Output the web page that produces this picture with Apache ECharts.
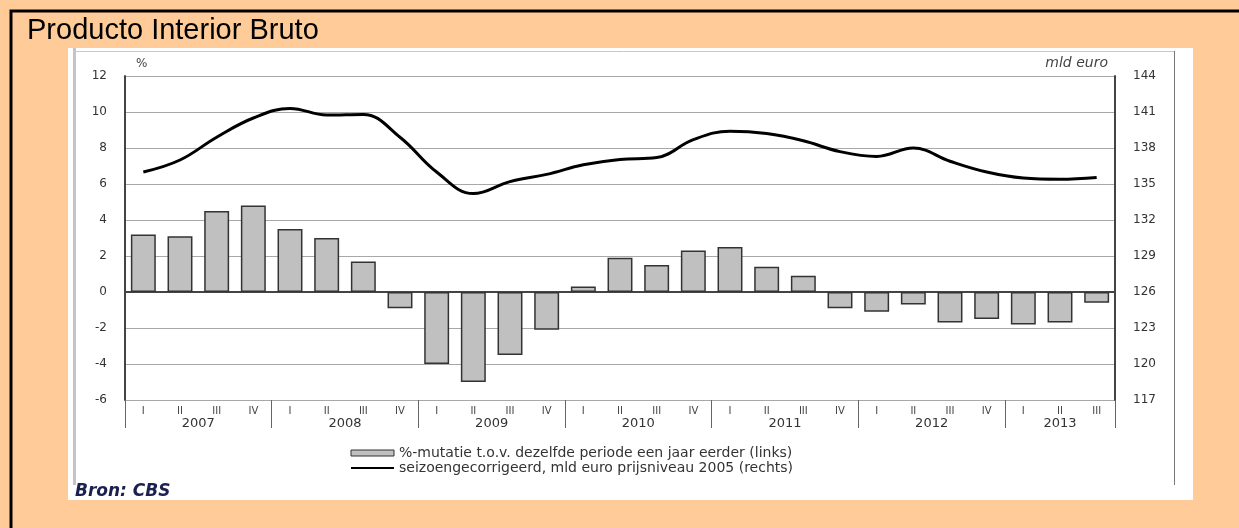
<!DOCTYPE html>
<html>
<head>
<meta charset="utf-8">
<title>Producto Interior Bruto</title>
<script src="https://cdn.jsdelivr.net/npm/echarts@6/dist/echarts.min.js"></script>
<style>
  html, body { margin: 0; padding: 0; background: #ffcc99; }
  #chart { width: 1239px; height: 528px; }
</style>
</head>
<body>
<div id="chart"></div>
<script>
// data
const years = ['2007', '2008', '2009', '2010', '2011', '2012', '2013'];
const quartersPerYear = [4, 4, 4, 4, 4, 4, 3];
const quarterNames = ['I', 'II', 'III', 'IV'];

// %-mutatie t.o.v. dezelfde periode een jaar eerder (links)
const mutatie = [3.2, 3.1, 4.5, 4.8, 3.5, 3.0, 1.7, -0.9,
  -4.0, -5.0, -3.5, -2.1, 0.3, 1.9, 1.5, 2.3,
  2.5, 1.4, 0.9, -0.9, -1.1, -0.7, -1.7, -1.5,
  -1.8, -1.7, -0.6];

// seizoengecorrigeerd, mld euro (rechts)
const bbp = [136.0, 137.0, 138.9, 140.5, 141.3, 140.75, 140.8, 138.9,
  136.0, 134.2, 135.2, 135.8, 136.6, 137.05, 137.2, 138.7,
  139.4, 139.2, 138.6, 137.7, 137.3, 138.0, 136.9, 136.0,
  135.5, 135.4, 135.55];

const leftTicks = { min: -6, max: 12, interval: 2 };
const rightTicks = { min: 117, max: 144, interval: 3 };

const barName = '%-mutatie t.o.v. dezelfde periode een jaar eerder (links)';
const lineName = 'seizoengecorrigeerd, mld euro prijsniveau 2005 (rechts)';

// quarter categories + half-slot axis for the year labels / separators
let categories = [];
let slotLabels = [];
let separators = new Set();
let start = 0;
years.forEach((y, i) => {
  for (let q = 0; q < quartersPerYear[i]; q++) categories.push(quarterNames[q]);
  separators.add(2 * start);
  slotLabels[2 * start + quartersPerYear[i]] = y;
  start += quartersPerYear[i];
});
separators.add(2 * start);
for (let k = 0; k <= 2 * start; k++) if (!slotLabels[k]) slotLabels[k] = '';

const font = 'DejaVu Sans';
let chartDom = document.getElementById('chart');
let myChart = echarts.init(chartDom, null, { renderer: 'canvas' });
let option;

option = {
  backgroundColor: '#ffcc99',
  animation: false,
  title: {
    text: 'Producto Interior Bruto',
    left: 27,
    top: 16,
    padding: 0,
    textStyle: { fontFamily: 'Liberation Sans', fontSize: 29, fontWeight: 'normal', color: '#000' }
  },
  graphic: [
    // outer black border (top + left)
    { type: 'polyline', z: 100, shape: { points: [[11, 600], [11, 11], [1300, 11]] },
      style: { stroke: '#000', lineWidth: 3, fill: null } },
    // white panel
    { type: 'rect', z: -10, shape: { x: 68, y: 48, width: 1125, height: 452 }, style: { fill: '#fff' } },
    // frame inside the panel
    { type: 'line', z: -5, shape: { x1: 74.5, y1: 48, x2: 74.5, y2: 485 }, style: { stroke: '#c4c4c4', lineWidth: 3 } },
    { type: 'line', z: -5, shape: { x1: 73, y1: 51.5, x2: 1174, y2: 51.5 }, style: { stroke: '#c8c8c8', lineWidth: 1 } },
    { type: 'line', z: -5, shape: { x1: 1174.5, y1: 51, x2: 1174.5, y2: 485 }, style: { stroke: '#777', lineWidth: 1 } },
    { type: 'text', left: 75, top: 483,
      style: { text: 'Bron: CBS', fontFamily: font, fontSize: 17, fontWeight: 'bold', fontStyle: 'italic', fill: '#1c2050' } }
  ],
  legend: {
    orient: 'vertical',
    left: 345,
    top: 441,
    itemWidth: 43,
    itemHeight: 6,
    itemGap: 1,
    textStyle: { fontFamily: font, fontSize: 14, color: '#333' },
    data: [
      { name: barName, icon: 'rect', itemStyle: { color: '#c0c0c0', borderColor: '#333', borderWidth: 1 } },
      { name: lineName, itemStyle: { opacity: 0 } }
    ]
  },
  grid: { left: 125, right: 124, top: 76, bottom: 128 },
  xAxis: [
    {
      type: 'category',
      data: categories,
      axisLine: { lineStyle: { color: '#444', width: 2 } },
      axisTick: { show: false },
      axisLabel: { interval: 0, margin: 6, fontFamily: font, fontSize: 10, color: '#444' }
    },
    {
      type: 'category',
      position: 'bottom',
      boundaryGap: false,
      data: slotLabels,
      axisLine: { show: false },
      axisTick: { show: true, length: 28, interval: (i) => separators.has(i), lineStyle: { color: '#666', width: 1 } },
      axisLabel: { interval: 0, margin: 17, fontFamily: font, fontSize: 13, color: '#333' },
      splitLine: { show: false }
    }
  ],
  yAxis: [
    {
      type: 'value',
      min: leftTicks.min,
      max: leftTicks.max,
      interval: leftTicks.interval,
      name: '%',
      nameLocation: 'end',
      nameGap: 6,
      nameTextStyle: { align: 'left', padding: [0, 0, 0, 11], fontFamily: font, fontSize: 12, color: '#444' },
      axisLine: { show: true, lineStyle: { color: '#444', width: 2 } },
      axisTick: { show: false },
      axisLabel: { margin: 18, fontFamily: font, fontSize: 12, color: '#333' },
      splitLine: { lineStyle: { color: '#a8a8a8', width: 1 } }
    },
    {
      type: 'value',
      position: 'right',
      min: rightTicks.min,
      max: rightTicks.max,
      interval: rightTicks.interval,
      name: 'mld euro',
      nameLocation: 'end',
      nameGap: 6,
      nameTextStyle: { align: 'right', padding: [0, 7, 0, 0], fontFamily: font, fontSize: 14, fontStyle: 'italic', color: '#444' },
      axisLine: { show: true, lineStyle: { color: '#444', width: 2 } },
      axisTick: { show: false },
      axisLabel: { margin: 18, fontFamily: font, fontSize: 12, color: '#333' },
      splitLine: { show: false }
    }
  ],
  series: [
    {
      name: barName,
      type: 'bar',
      barWidth: '68%',
      itemStyle: { color: '#c0c0c0', borderColor: '#333', borderWidth: 1.5 },
      data: mutatie
    },
    {
      name: lineName,
      type: 'line',
      yAxisIndex: 1,
      smooth: 0.4,
      symbol: 'none',
      lineStyle: { color: '#000', width: 3 },
      itemStyle: { color: '#000' },
      z: 5,
      data: bbp
    }
  ]
};

option && myChart.setOption(option);
</script>
</body>
</html>
